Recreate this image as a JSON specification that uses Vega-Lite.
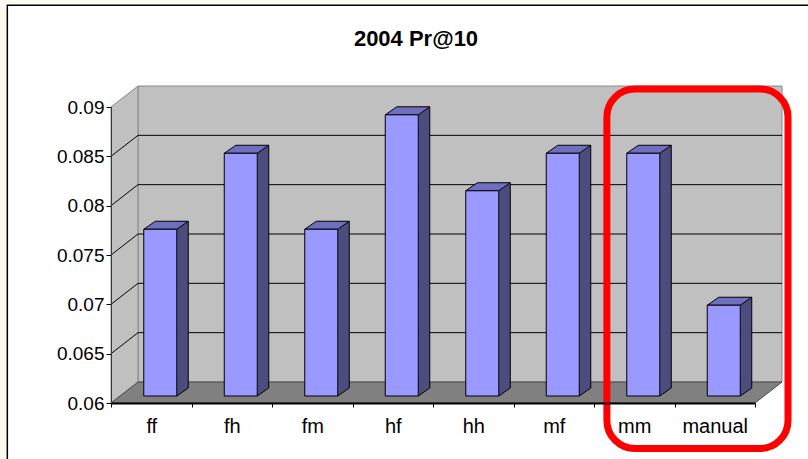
{
  "$schema": "https://vega.github.io/schema/vega-lite/v6.json",
  "width": 644,
  "height": 296,
  "autosize": {"type": "none"},
  "padding": {"left": 111, "top": 107, "right": 53, "bottom": 56},
  "background": "#fcfaee",
  "config": {"view": {"stroke": null}, "font": "Liberation Sans"},
  "title": {
    "text": "2004 Pr@10",
    "fontSize": 22,
    "fontWeight": "bold",
    "font": "Liberation Sans",
    "color": "black",
    "frame": "group",
    "anchor": "middle",
    "dx": -17,
    "baseline": "alphabetic",
    "offset": -63
  },
  "datasets": {
    "scores": [
      {"run": "ff", "pr10": 0.0769},
      {"run": "fh", "pr10": 0.0846},
      {"run": "fm", "pr10": 0.0769},
      {"run": "hf", "pr10": 0.0885},
      {"run": "hh", "pr10": 0.0808},
      {"run": "mf", "pr10": 0.0846},
      {"run": "mm", "pr10": 0.0846},
      {"run": "manual", "pr10": 0.0692}
    ],
    "gridTicks": [
      {"v": 0.065},
      {"v": 0.07},
      {"v": 0.075},
      {"v": 0.08},
      {"v": 0.085}
    ]
  },
  "resolve": {
    "scale": {"x": "independent"},
    "axis": {"x": "independent", "y": "independent"}
  },
  "layer": [
    {
      "layer": [
        {
          "data": {"values": [{}]},
          "mark": {"type": "rect", "fill": "white", "stroke": "black", "strokeWidth": 1.5, "clip": false},
          "encoding": {
            "x": {"datum": -1.288, "type": "quantitative", "scale": {"domain": [0, 8], "nice": false, "zero": false}, "axis": null},
            "x2": {"datum": 9},
            "y": {"datum": 0.1003, "type": "quantitative", "scale": {"domain": [0.06, 0.09], "nice": false, "zero": false}, "axis": null},
            "y2": {"datum": 0.05}
          }
        },
        {
          "data": {"values": [{}]},
          "mark": {"type": "rect", "fill": "#c0c0c0", "stroke": "#888888", "strokeWidth": 1, "xOffset": 27, "x2Offset": 27, "yOffset": -21, "y2Offset": -21},
          "encoding": {
            "x": {"datum": 0, "type": "quantitative", "scale": {"domain": [0, 8], "nice": false, "zero": false}, "axis": null},
            "x2": {"datum": 8},
            "y": {"datum": 0.06, "type": "quantitative", "scale": {"domain": [0.06, 0.09], "nice": false, "zero": false}, "axis": null},
            "y2": {"datum": 0.09}
          }
        },
        {
          "data": {"values": [{}]},
          "mark": {"type": "point", "shape": "M0,0 L27,-21 L27,-317 L0,-296 Z", "size": 4, "filled": true, "fill": "#c0c0c0", "stroke": "#888888", "strokeWidth": 1, "opacity": 1},
          "encoding": {
            "x": {"datum": 0, "type": "quantitative", "scale": {"domain": [0, 8], "nice": false, "zero": false}, "axis": null},
            "y": {"datum": 0.06, "type": "quantitative", "scale": {"domain": [0.06, 0.09], "nice": false, "zero": false}, "axis": null}
          }
        },
        {
          "data": {"name": "gridTicks"},
          "mark": {"type": "rule", "stroke": "black", "strokeWidth": 1, "xOffset": 27, "x2Offset": 27, "yOffset": -21},
          "encoding": {
            "x": {"datum": 0, "type": "quantitative", "scale": {"domain": [0, 8], "nice": false, "zero": false}, "axis": null},
            "x2": {"datum": 8},
            "y": {"field": "v", "type": "quantitative", "scale": {"domain": [0.06, 0.09], "nice": false, "zero": false}, "axis": null}
          }
        },
        {
          "data": {"name": "gridTicks"},
          "mark": {"type": "point", "shape": "M0,0 L27,-21", "size": 4, "filled": false, "stroke": "black", "strokeWidth": 1, "opacity": 1},
          "encoding": {
            "x": {"datum": 0, "type": "quantitative", "scale": {"domain": [0, 8], "nice": false, "zero": false}, "axis": null},
            "y": {"field": "v", "type": "quantitative", "scale": {"domain": [0.06, 0.09], "nice": false, "zero": false}, "axis": null}
          }
        },
        {
          "data": {"values": [{}]},
          "mark": {"type": "point", "shape": "M0,0 L27,-21 L671,-21 L644,0 Z", "size": 4, "filled": true, "fill": "#808080", "stroke": "#4a4a4a", "strokeWidth": 1, "opacity": 1},
          "encoding": {
            "x": {"datum": 0, "type": "quantitative", "scale": {"domain": [0, 8], "nice": false, "zero": false}, "axis": null},
            "y": {"datum": 0.06, "type": "quantitative", "scale": {"domain": [0.06, 0.09], "nice": false, "zero": false}, "axis": null}
          }
        }
      ]
    },
    {
      "data": {"name": "scores"},
      "encoding": {
        "x": {
          "field": "run",
          "type": "nominal",
          "sort": null,
          "scale": {"paddingInner": 0, "paddingOuter": 0},
          "axis": {
            "title": null,
            "labelAngle": 0,
            "labelFont": "Liberation Sans",
            "labelFontSize": 20,
            "labelColor": "black",
            "labelBaseline": "alphabetic",
            "labelPadding": 25,
            "domainColor": "black",
            "domainWidth": 2,
            "tickColor": "black",
            "tickSize": 4,
            "tickBand": "extent",
            "zindex": 1
          }
        },
        "y": {
          "field": "pr10",
          "type": "quantitative",
          "scale": {"domain": [0.06, 0.09], "nice": false, "zero": false},
          "axis": {
            "title": null,
            "values": [0.06, 0.065, 0.07, 0.075, 0.08, 0.085, 0.09],
            "format": ".3~f",
            "grid": false,
            "labelFont": "Liberation Sans",
            "labelFontSize": 19,
            "labelColor": "black",
            "labelPadding": 2,
            "domainColor": "#3a3a3a",
            "domainWidth": 1,
            "tickColor": "black",
            "tickSize": 5,
            "zindex": 1
          }
        }
      },
      "layer": [
        {
          "mark": {"type": "bar", "width": 11.5, "xOffset": 31.25, "yOffset": -15, "y2Offset": -7, "fill": "#4c4c7e", "strokeWidth": 0},
          "encoding": {"y2": {"datum": 0.06}}
        },
        {
          "mark": {"type": "point", "shape": "M0,0 L11.5,-8 L12.5,-8 L12.5,1.5 L0,1.5 Z", "size": 4, "filled": true, "fill": "#808080", "strokeWidth": 0, "opacity": 1, "xOffset": 25.5, "yOffset": -7},
          "encoding": {"y": {"datum": 0.06, "type": "quantitative"}}
        },
        {
          "mark": {"type": "point", "shape": "M0,0 L11.5,-8", "size": 4, "filled": false, "stroke": "black", "strokeWidth": 1, "opacity": 1, "xOffset": 25.5, "yOffset": -7},
          "encoding": {"y": {"datum": 0.06, "type": "quantitative"}}
        },
        {
          "mark": {"type": "rule", "stroke": "black", "strokeWidth": 1, "xOffset": 37, "yOffset": -15, "y2Offset": -15},
          "encoding": {"y2": {"datum": 0.06}}
        },
        {
          "mark": {"type": "point", "shape": "M-16.5,0 L-5,-8 L28,-8 L16.5,0 Z", "size": 4, "filled": true, "fill": "#6f6fbe", "stroke": "black", "strokeWidth": 1, "opacity": 1, "xOffset": 9, "yOffset": -7}
        },
        {
          "mark": {"type": "bar", "width": 33, "xOffset": 9, "yOffset": -7, "y2Offset": -7, "fill": "#9999ff", "stroke": "black", "strokeWidth": 1},
          "encoding": {"y2": {"datum": 0.06}}
        }
      ]
    },
    {
      "data": {"values": [{}]},
      "mark": {"type": "rect", "cornerRadius": 28, "fillOpacity": 0, "stroke": "#ff0000", "strokeWidth": 7},
      "encoding": {
        "x": {"datum": 6.16, "type": "quantitative", "scale": {"domain": [0, 8], "nice": false, "zero": false}, "axis": null},
        "x2": {"datum": 8.41},
        "y": {"datum": 0.09182, "type": "quantitative", "scale": {"domain": [0.06, 0.09], "nice": false, "zero": false}, "axis": null},
        "y2": {"datum": 0.05539}
      }
    }
  ]
}
